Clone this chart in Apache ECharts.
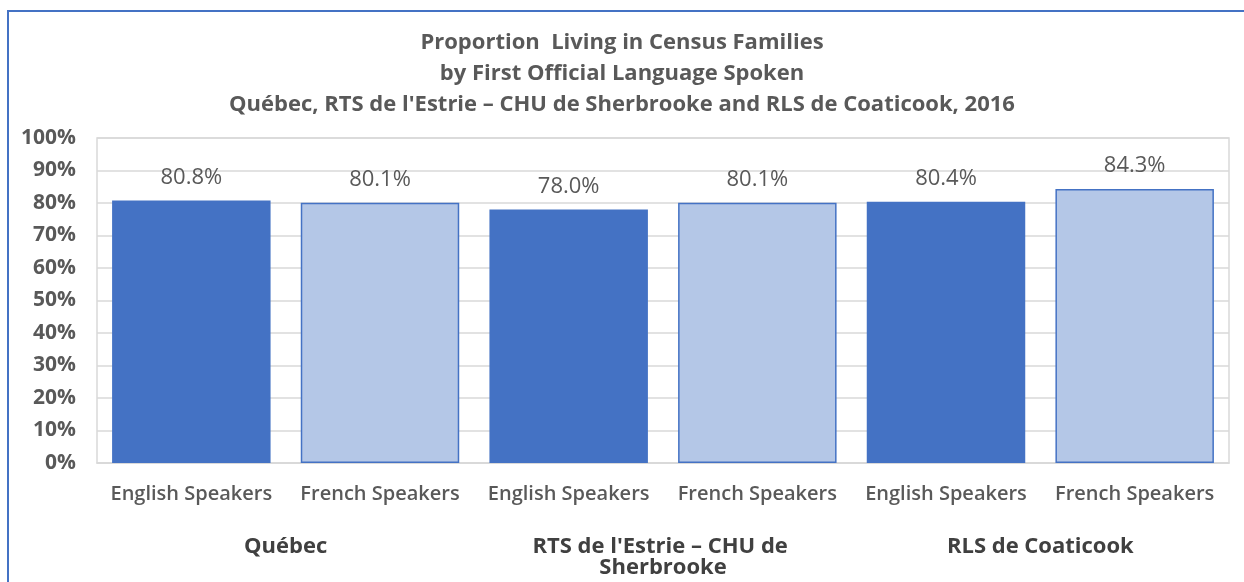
<html>
<head>
<meta charset="utf-8">
<title>Proportion Living in Census Families</title>
<script src="https://cdn.jsdelivr.net/npm/echarts@6/dist/echarts.min.js"></script>
<style>
body { margin: 0; background: #fff; }
#chart { width: 1244px; height: 582px; }
</style>
</head>
<body>
<div id="chart"></div>
<script>
// donnees
var titleLines = ['Proportion  Living in Census Families', 'by First Official Language Spoken',
	"Québec, RTS de l'Estrie – CHU de Sherbrooke and RLS de Coaticook, 2016"];
var categories = ['English Speakers', 'French Speakers', 'English Speakers', 'French Speakers', 'English Speakers', 'French Speakers'];
var groups = ['Québec', "RTS de l'Estrie – CHU de Sherbrooke", 'RLS de Coaticook'];
var values = [80.8, 80.1, 78.0, 80.1, 80.4, 84.3];
var yTicks = [0, 10, 20, 30, 40, 50, 60, 70, 80, 90, 100];

var FONT = '"Open Sans", sans-serif';
var GREY = '#595959';

var barData = values.map(function (v, i) {
	var light = (i % 2 == 1);
	return {
		value: v,
		itemStyle: {
			color: light ? '#B4C7E7' : '#4472C4',
			borderColor: '#4472C4',
			borderWidth: light ? 1.5 : 0
		}
	};
});

var myChart = echarts.init(document.getElementById('chart'));

var option = {
	animation: false,
	backgroundColor: '#fff',
	title: {
		text: titleLines.join('\n'),
		left: 'center',
		top: 22,
		textStyle: { fontFamily: FONT, fontSize: 22, fontWeight: 'bold', color: GREY, lineHeight: 31 }
	},
	graphic: [{
		type: 'rect',
		shape: { x: 8, y: 11, width: 1300, height: 700 },
		style: { fill: null, stroke: '#4472C4', lineWidth: 2 },
		silent: true
	}],
	grid: {
		left: 97, right: 15, top: 138, bottom: 119,
		show: true, borderColor: '#D9D9D9', borderWidth: 1.5
	},
	xAxis: [{
		type: 'category',
		data: categories,
		axisLine: { lineStyle: { color: '#D9D9D9', width: 1.5 } },
		axisTick: { show: false },
		axisLabel: { interval: 0, margin: 21, fontFamily: FONT, fontSize: 20, fontWeight: 600, color: GREY }
	}, {
		type: 'category',
		data: groups,
		position: 'bottom',
		offset: 65,
		axisLine: { show: false },
		axisTick: { show: false },
		axisLabel: {
			interval: 0, fontFamily: FONT, fontSize: 22, fontWeight: 'bold', color: '#404040',
			width: 300, overflow: 'break', lineHeight: 21
		}
	}],
	yAxis: {
		type: 'value',
		min: 0, max: 100, interval: 10,
		axisLine: { show: false },
		axisTick: { show: false },
		splitLine: { lineStyle: { color: '#D9D9D9', width: 1.5 } },
		axisLabel: {
			margin: 21, fontFamily: FONT, fontSize: 21, fontWeight: 'bold', color: GREY,
			formatter: function (v) { return yTicks.indexOf(v) >= 0 ? v + '%' : ''; }
		}
	},
	series: [{
		type: 'bar',
		data: barData,
		barCategoryGap: '16%',
		label: {
			show: true,
			position: 'top',
			distance: 12,
			fontFamily: FONT, fontSize: 22, color: GREY,
			formatter: function (p) { return p.value.toFixed(1) + '%'; }
		}
	}]
};

myChart.setOption(option);
</script>
</body>
</html>
